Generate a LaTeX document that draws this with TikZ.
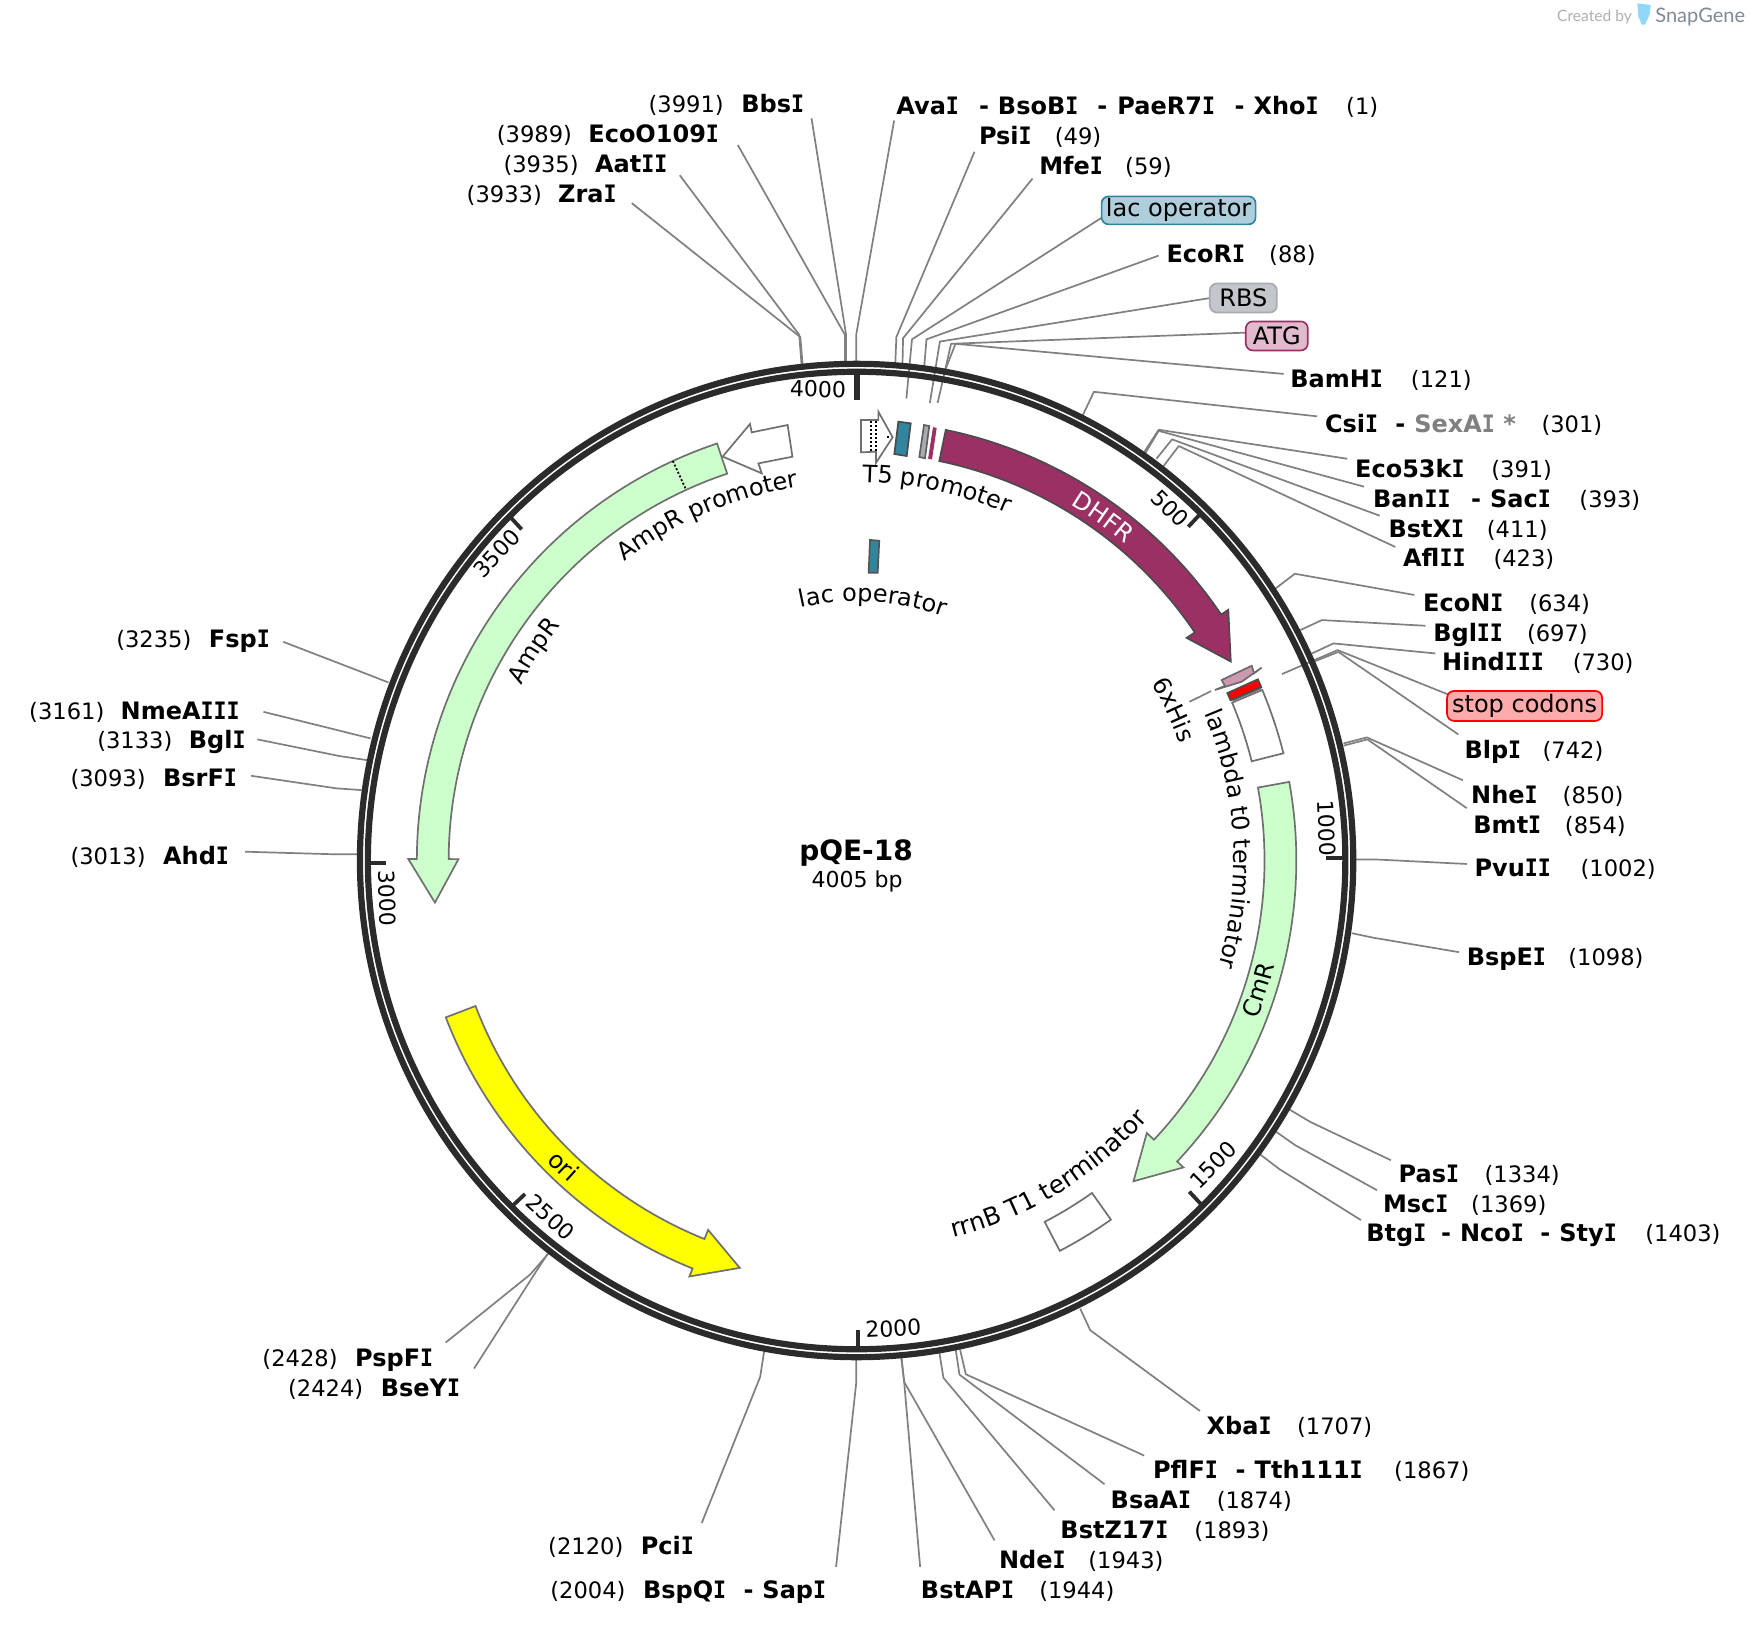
\documentclass[tikz,border=0pt]{standalone}
\usepackage{fontspec}
\usetikzlibrary{decorations.text}
\setmainfont{DejaVu Sans}
\newfontfamily\monof[FakeStretch=0.9]{DejaVu Sans Mono}
\newfontfamily\logof{Lato}
\newcommand\vI{{\fontsize{24}{24}\selectfont\monof\bfseries I}}
\newcommand\fnum{\fontsize{22}{26}\selectfont}
\newcommand\fsite{\fontsize{22.6}{26}\selectfont}
\newcommand\fbold{\fontsize{24}{28}\selectfont\bfseries}
\newcommand\ffeat{\fontsize{24}{28}\selectfont}
\newcommand\ffeatb{\fontsize{24.8}{28}\selectfont}
% fixed-width pieces; width given in reference display units
\newcommand\Bx[2]{\makebox[\dimexpr #1pt*11161/10000\relax][l]{\fbold #2}}
\newcommand\Nx[2]{\makebox[\dimexpr #1pt*11161/10000\relax][l]{\fsite #2}}
\newcommand\Nm[1]{{\fbold #1}}
\newcommand\Nn[1]{{\fsite #1}}
\definecolor{ringc}{HTML}{2B2B2B}
\definecolor{leadc}{HTML}{808080}
\definecolor{featc}{HTML}{707070}
\definecolor{teal}{HTML}{31859F}
\definecolor{dhfr}{HTML}{9B3064}
\definecolor{mint}{HTML}{CCFFCC}
\definecolor{yel}{HTML}{FFFF00}
\definecolor{redc}{HTML}{FF0000}
\definecolor{hisc}{HTML}{CC99B1}
\definecolor{tagteal}{HTML}{ADCEDA}
\definecolor{tagrbs}{HTML}{C3C6CA}
\definecolor{tagrbsl}{HTML}{A8ACB0}
\definecolor{tagatg}{HTML}{E1BBCD}
\definecolor{tagred}{HTML}{FFAAAA}
\definecolor{logoblue}{HTML}{8FD8FA}
\definecolor{logogray}{HTML}{7F8A96}
\definecolor{logolight}{HTML}{B0B0B0}
\definecolor{sexc}{HTML}{808080}
\tikzset{
  leader/.style={draw=leadc,line width=1.7pt,line join=round},
  feat/.style={draw=featc,line width=1.7pt,line join=miter},
  ringline/.style={draw=ringc,line width=6.2pt},
  tickline/.style={draw=ringc,line width=3.8pt},
  lbl/.style={anchor=base west,inner sep=0pt,text=black},
  ticklab/.style={inner sep=0pt,font=\fnum},
  boxlab/.style={draw,rounded corners=7pt,line width=1.7pt,inner sep=0pt,font=\ffeat,text=black},
}
\newcommand\pol[2]{({90-(#1)}:{#2})}
% band arrow: tail angle, neck angle, tip angle, colours
\newcommand\Arrow[5]{\draw[feat,draw=#4,fill=#5] \pol{#1}{394} arc[start angle={90-(#1)},end angle={90-(#2)},radius=394] -- \pol{#2}{401.7} -- \pol{#3}{379.7} -- \pol{#2}{356.7} -- \pol{#2}{365.5} arc[start angle={90-(#2)},end angle={90-(#1)},radius=365.5] -- cycle;}
\newcommand\Sector[5]{\draw[feat,draw=#3,fill=#4,line width=#5] \pol{#1}{394.3} arc[start angle={90-(#1)},end angle={90-(#2)},radius=394.3] -- \pol{#2}{365} arc[start angle={90-(#2)},end angle={90-(#1)},radius=365] -- cycle;}
\newcommand\cwtext[5]{\path[decorate,decoration={text along path,text align=center,text={|\ffeat#1|#2}}] \pol{#3-#5}{#4} arc[start angle={90-(#3)+(#5)},end angle={90-(#3)-(#5)},radius=#4];}
\newcommand\ccwtext[5]{\path[decorate,decoration={text along path,text align=center,text={|\ffeat#1|#2}}] \pol{#3+#5}{#4} arc[start angle={90-(#3)-(#5)},end angle={90-(#3)+(#5)},radius=#4];}
\newcommand\lead[4]{\coordinate (#1-a) at (#2);\coordinate (#1-b) at (#3);\coordinate (#1-c) at (#4);\draw[leader] (#1-a) -- (#1-b) -- (#1-c);}
\newcommand\site[4]{\node[lbl] (#1) at (#2,{#3+7.5}) {#4};}
\begin{document}
\begin{tikzpicture}[x=1pt,y=1pt,scale=1.1161]
\useasboundingbox (-767.5,771) rectangle (800.46,-685.86);
\fill[white] (-767.5,771) rectangle (800.46,-685.86);
\begin{scope}[shift={(-767.5,771)},yscale=-1]
% leaders
\lead{zra}{566,182}{717,302}{719,326}
\lead{aat}{609,157}{716,300}{718,326}
\lead{eco}{661,130}{757,300}{757,326}
\lead{bbs}{727,106}{758,300}{758,326}
\lead{ava}{801,108}{767,300}{767,326}
\lead{psi}{873,136}{803,302}{802,327}
\lead{mfe}{925,160}{809,303}{808.5,327}
\lead{lacl}{987,195}{817,304}{812,357}
\lead{ecr}{1038,229}{830,304}{828,328}
\lead{rbsl}{1084,267}{842,306}{833,361}
\lead{atgl}{1116,298}{852,308}{840,361}
\lead{bam}{1150,335}{856,308}{847,331}
\lead{csi}{1180,373}{980,351}{970,372}
\lead{e53}{1207,411}{1038,385}{1025,405}
\lead{ban}{1222,436}{1038,386}{1026,406}
\lead{bsx}{1236,462}{1050,393.6}{1036,411}
\lead{afl}{1250,490}{1056,399.6}{1042,418}
\lead{ecn}{1267,533}{1160,514}{1143,527}
\lead{bgl}{1277,560.6}{1184.2,555.5}{1164.8,564.5}
\lead{hin}{1285.8,585.4}{1194.6,576.4}{1175.3,585.4}
\lead{stp}{1297,622}{1198.2,582.4}{1148.4,603.9}
\lead{blp}{1306.5,658}{1199,584}{1178.2,592.3}
\lead{nhe}{1310.5,699}{1224.5,660.6}{1203.6,666}
\lead{bmt}{1314,724}{1225,662.4}{1203.6,668}
\lead{pvu}{1314,774}{1233.5,770}{1214,770}
\lead{bsp}{1307,853}{1230,840}{1211,836}
\lead{pas}{1246,1039.4}{1173.7,1005}{1155.2,994}
\lead{msc}{1233.5,1066.2}{1160.3,1025.9}{1143.3,1014}
\lead{btg}{1219.2,1093}{1146.2,1047.4}{1129,1034.3}
\lead{xba}{1075,1264}{976.7,1191.7}{967.7,1172.3}
\lead{pfl}{1025,1304}{865.2,1231.1}{860.1,1209}
\lead{bsa}{989.5,1329.6}{859.5,1231.4}{856.3,1209.6}
\lead{bsz}{944.7,1353}{845.2,1234.4}{841.6,1212}
\lead{nde}{891,1380}{810,1238}{807.5,1216}
\lead{bap}{824.3,1403.7}{810,1238}{807.5,1216}
\lead{bpq}{749,1403.7}{767,1239.4}{767,1218}
\lead{pci}{628.7,1364.3}{681,1233.5}{684.5,1211}
\lead{psp}{399.3,1202.7}{474.9,1141.8}{491.3,1123}
\lead{bse}{424.7,1226}{479.3,1140.6}{490.4,1123.6}
\lead{ahd}{219.5,763}{295.7,765.2}{320,765.2}
\lead{bsr}{225,695}{301.7,706.3}{324,707.8}
\lead{bgi}{230.6,662.4}{304.6,677.4}{329,681}
\lead{nme}{236,637.7}{300,653.5}{332,661.5}
\lead{fsp}{253.8,575}{320,600.5}{348,611.4}
\coordinate (his-a) at (1065.6,628.7);\coordinate (his-b) at (1085,619.1);
\draw[leader] (his-a) -- (his-b);
\end{scope}
% ring
\draw[ringline] (0,0) circle[radius=445];
\draw[ringline] (0,0) circle[radius=437.9];
\begin{scope}[shift={(-767.5,771)},yscale=-1]
% ticks
\draw[tickline,line width=5.5pt] (767.7,334) -- (767.7,358);
\draw[tickline] (1064.7,472) -- (1074.5,461.5);
\draw[tickline] (1188,769) -- (1204,769);
\draw[tickline] (1065.6,1067.7) -- (1076.7,1079.6);
\draw[tickline] (768.8,1191.7) -- (768.8,1207);
\draw[tickline] (460,1079.7) -- (470.4,1069.8);
\draw[tickline] (331,773) -- (345.8,773);
\draw[tickline] (457,463) -- (467.4,474.3);
\node[ticklab,rotate=-1] (t4000) at (733,348.6) {4000};
\node[ticklab,rotate=-45] (t500) at (1048.3,455.5) {500};
\node[ticklab,rotate=-88] (t1000) at (1188.7,742.2) {1000};
\node[ticklab,rotate=45] (t1500) at (1087,1043.8) {1500};
\node[ticklab,rotate=3] (t2000) at (800.4,1190.2) {2000};
\node[ticklab,rotate=-42] (t2500) at (493.4,1090.7) {2500};
\node[ticklab,rotate=-88] (t3000) at (347,805) {3000};
\node[ticklab,rotate=47] (t3500) at (445,495.8) {3500};
% straight-edged features
\draw[feat] (647.5,409.1) -- (672,379.9) -- (673.5,387.4) -- (705.7,380.8) -- (710,409.2) -- (679.5,415.2) -- (682.5,424.1) -- cycle;
\draw[feat,fill=white] (771.4,376.3) -- (787,376.3) -- (787,368.9) -- (799.8,391.8) -- (784.9,414.6) -- (784.9,404.7) -- (771.4,405.3) -- cycle;
\draw[black,line width=2pt,dash pattern=on 2pt off 2pt] (780.1,377) -- (780.1,404.5);
\draw[black,line width=2pt,dash pattern=on 2pt off 2pt] (784.9,377) -- (784.9,404.5);
\draw[black,line width=2pt] (794.6,391.8) -- (796.6,391.8);
\draw[draw=ringc!85,fill=teal,line width=1.7pt] (804.9,377.8) -- (816,379.3) -- (812.4,408.6) -- (801.3,406.8) -- cycle;
\draw[draw=ringc!75,fill=tagrbsl,line width=1.7pt] (827.9,380.8) -- (832.6,381.7) -- (828.8,410.6) -- (823.7,409.5) -- cycle;
\draw[draw=white,fill=dhfr,line width=0.5pt] (835.7,382.3) -- (839.6,383.2) -- (835.3,412.1) -- (831.2,411.3) -- cycle;
\draw[draw=ringc!80,fill=teal,line width=1.7pt] (779.5,483.8) -- (787.8,484.5) -- (786.4,513.1) -- (778.3,513.1) -- cycle;
\draw[feat,draw=ringc!70,fill=hisc] (1094.6,609.3) -- (1121.5,596.5) -- (1123.6,603.3) -- (1130.4,598.2) -- (1112.5,610.8) -- (1088.6,618.2) -- (1097.6,614.6) -- cycle;
\end{scope}
% curved features
\Arrow{11.7}{56}{62}{ringc!85}{dhfr}
\Arrow{79.7}{133.2}{139.2}{featc}{mint}
\Arrow{-18.5}{-89.8}{-95.7}{featc}{mint}
\Arrow{249.1}{201.9}{196}{featc}{yel}
\draw[black,line width=1.8pt,dash pattern=on 2pt off 2pt] \pol{-24.7}{394} -- \pol{-24.7}{366};
\Sector{67.2}{75.9}{featc}{white}{1.7pt}
\Sector{144.7}{152.5}{featc}{white}{1.7pt}
\draw[draw=featc,line width=1.7pt] \pol{66.95}{366} -- \pol{66.95}{394};
\draw[draw=ringc!85,fill=redc,line width=1.7pt] \pol{65.7}{394.5} arc[start angle={90-65.7},end angle={90-66.8},radius=394.5] -- \pol{66.8}{364.5} arc[start angle={90-66.8},end angle={90-65.7},radius=364.5] -- cycle;
% curved labels
\cwtext{}{T5 promoter}{12.2}{339}{30}
\cwtext{}{lac operator}{3.6}{232}{40}
\cwtext{}{AmpR promoter}{-23.3}{339}{30}
\cwtext{}{AmpR}{-57}{339}{20}
\cwtext{}{lambda t0 terminator}{86.7}{338}{40}
\cwtext{}{6xHis}{64.6}{308}{15}
\cwtext{\color{white}}{DHFR}{35.7}{372}{20}
\ccwtext{}{CmR}{107.9}{386}{15}
\ccwtext{\ffeatb}{rrnB T1 terminator}{148.6}{349}{30}
\ccwtext{}{ori}{223.8}{387}{15}
\begin{scope}[shift={(-767.5,771)},yscale=-1]
% centre
\node[inner sep=0pt,font=\fontsize{28}{32}\selectfont\bfseries] (title) at (767,764) {pQE-18};
\node[inner sep=0pt,font=\fnum] (bp) at (768,790) {4005 bp};
% feature tags
\node[boxlab,draw=teal,fill=tagteal,minimum width=154pt,minimum height=28pt] (tlac) at (1056,188.5) {lac operator};
\node[boxlab,draw=tagrbsl,fill=tagrbs,minimum width=67pt,minimum height=29pt] (trbs) at (1114,267) {RBS};
\node[boxlab,draw=dhfr,fill=tagatg,minimum width=62pt,minimum height=29pt] (tatg) at (1144,301) {ATG};
\node[boxlab,draw=redc,fill=tagred,minimum width=155pt,minimum height=30pt] (tstp) at (1366,632.5) {stop codons};
% site labels
\site{sbbs}{581}{93}{\Nx{83}{(3991)}\Nm{Bbs\vI}}
\site{seco}{445}{120}{\Nx{82}{(3989)}\Nm{EcoO109\vI}}
\site{saat}{451}{147}{\Nx{82}{(3935)}\Nm{Aat\vI\vI}}
\site{szra}{418}{174}{\Nx{82}{(3933)}\Nm{Zra\vI}}
\site{sava}{803}{95}{\Bx{74}{Ava\vI}\Bx{17}{-}\Bx{89}{BsoB\vI}\Bx{18}{-}\Bx{105}{PaeR7\vI}\Bx{17}{-}\Bx{83}{Xho\vI}\Nn{(1)}}
\site{spsi}{877}{122}{\Bx{68}{Psi\vI}\Nn{(49)}}
\site{smfe}{931}{149}{\Bx{77}{Mfe\vI}\Nn{(59)}}
\site{secr}{1045}{228}{\Bx{92}{EcoR\vI}\Nn{(88)}}
\site{sbam}{1156}{340}{\Bx{108}{BamH\vI}\Nn{(121)}}
\site{scsi}{1187}{380}{\Bx{63}{Csi\vI}\Bx{17}{-}\makebox[\dimexpr 114pt*11161/10000\relax][l]{\fbold\color{sexc}SexA\vI{} *}\Nn{(301)}}
\site{se53}{1214}{420}{\Bx{122}{Eco53k\vI}\Nn{(391)}}
\site{sban}{1230}{447}{\Bx{88}{Ban\vI\vI}\Bx{17}{-}\Bx{80}{Sac\vI}\Nn{(393)}}
\site{sbsx}{1244}{474}{\Bx{88}{BstX\vI}\Nn{(411)}}
\site{safl}{1257}{500}{\Bx{81}{Afl\vI\vI}\Nn{(423)}}
\site{secn}{1275}{540}{\Bx{95}{EcoN\vI}\Nn{(634)}}
\site{sbgl}{1284}{567}{\Bx{84}{Bgl\vI\vI}\Nn{(697)}}
\site{shin}{1292}{593}{\Bx{117}{Hind\vI\vI\vI}\Nn{(730)}}
\site{sblp}{1312}{672}{\Bx{70}{Blp\vI}\Nn{(742)}}
\site{snhe}{1318}{712}{\Bx{82}{Nhe\vI}\Nn{(850)}}
\site{sbmt}{1320}{739}{\Bx{82}{Bmt\vI}\Nn{(854)}}
\site{spvu}{1321}{778}{\Bx{95}{Pvu\vI\vI}\Nn{(1002)}}
\site{sbsp}{1314}{858}{\Bx{91}{BspE\vI}\Nn{(1098)}}
\site{spas}{1253}{1052}{\Bx{77}{Pas\vI}\Nn{(1334)}}
\site{smsc}{1239}{1079}{\Bx{79}{Msc\vI}\Nn{(1369)}}
\site{sbtg}{1224}{1105}{\Bx{67}{Btg\vI}\Bx{17}{-}\Bx{72}{Nco\vI}\Bx{17}{-}\Bx{77}{Sty\vI}\Nn{(1403)}}
\site{sxba}{1081}{1278}{\Bx{81}{Xba\vI}\Nn{(1707)}}
\site{spfl}{1033}{1317}{\Bx{74}{PflF\vI}\Bx{17}{-}\Bx{125}{Tth111\vI}\Nn{(1867)}}
\site{sbsa}{995}{1344}{\Bx{95}{BsaA\vI}\Nn{(1874)}}
\site{sbsz}{950}{1371}{\Bx{120}{BstZ17\vI}\Nn{(1893)}}
\site{snde}{895}{1398}{\Bx{80}{Nde\vI}\Nn{(1943)}}
\site{sbap}{825}{1425}{\Bx{106}{BstAP\vI}\Nn{(1944)}}
\site{sbpq}{493}{1425}{\Nx{83}{(2004)}\Bx{90}{BspQ\vI}\Bx{17}{-}\Nm{Sap\vI}}
\site{spci}{491}{1385}{\Nx{83}{(2120)}\Nm{Pci\vI}}
\site{spsp}{235}{1217}{\Nx{83}{(2428)}\Nm{PspF\vI}}
\site{sbse}{258}{1244}{\Nx{83}{(2424)}\Nm{BseY\vI}}
\site{sahd}{63}{767}{\Nx{83}{(3013)}\Nm{Ahd\vI}}
\site{sbsr}{63}{697}{\Nx{83}{(3093)}\Nm{BsrF\vI}}
\site{sbgi}{87}{663}{\Nx{82}{(3133)}\Nm{Bgl\vI}}
\site{snme}{26}{637}{\Nx{82}{(3161)}\Nm{NmeA\vI\vI\vI}}
\site{sfsp}{104}{573}{\Nx{83}{(3235)}\Nm{Fsp\vI}}
% logo
\node[inner sep=0pt,anchor=base west,font=\fontsize{15.6}{18}\selectfont\logof,text=logolight] (cby) at (1395,19) {Created by};
\node[inner sep=0pt,anchor=base west,font=\fontsize{20}{24}\selectfont\logof,text=logogray] (sg) at (1483,20) {SnapGene};
\fill[logoblue] (1467,3) -- (1479,4.5) -- (1478,13) -- (1474,22) -- (1471,22) -- (1468,15) -- cycle;
\end{scope}
\end{tikzpicture}
\end{document}
